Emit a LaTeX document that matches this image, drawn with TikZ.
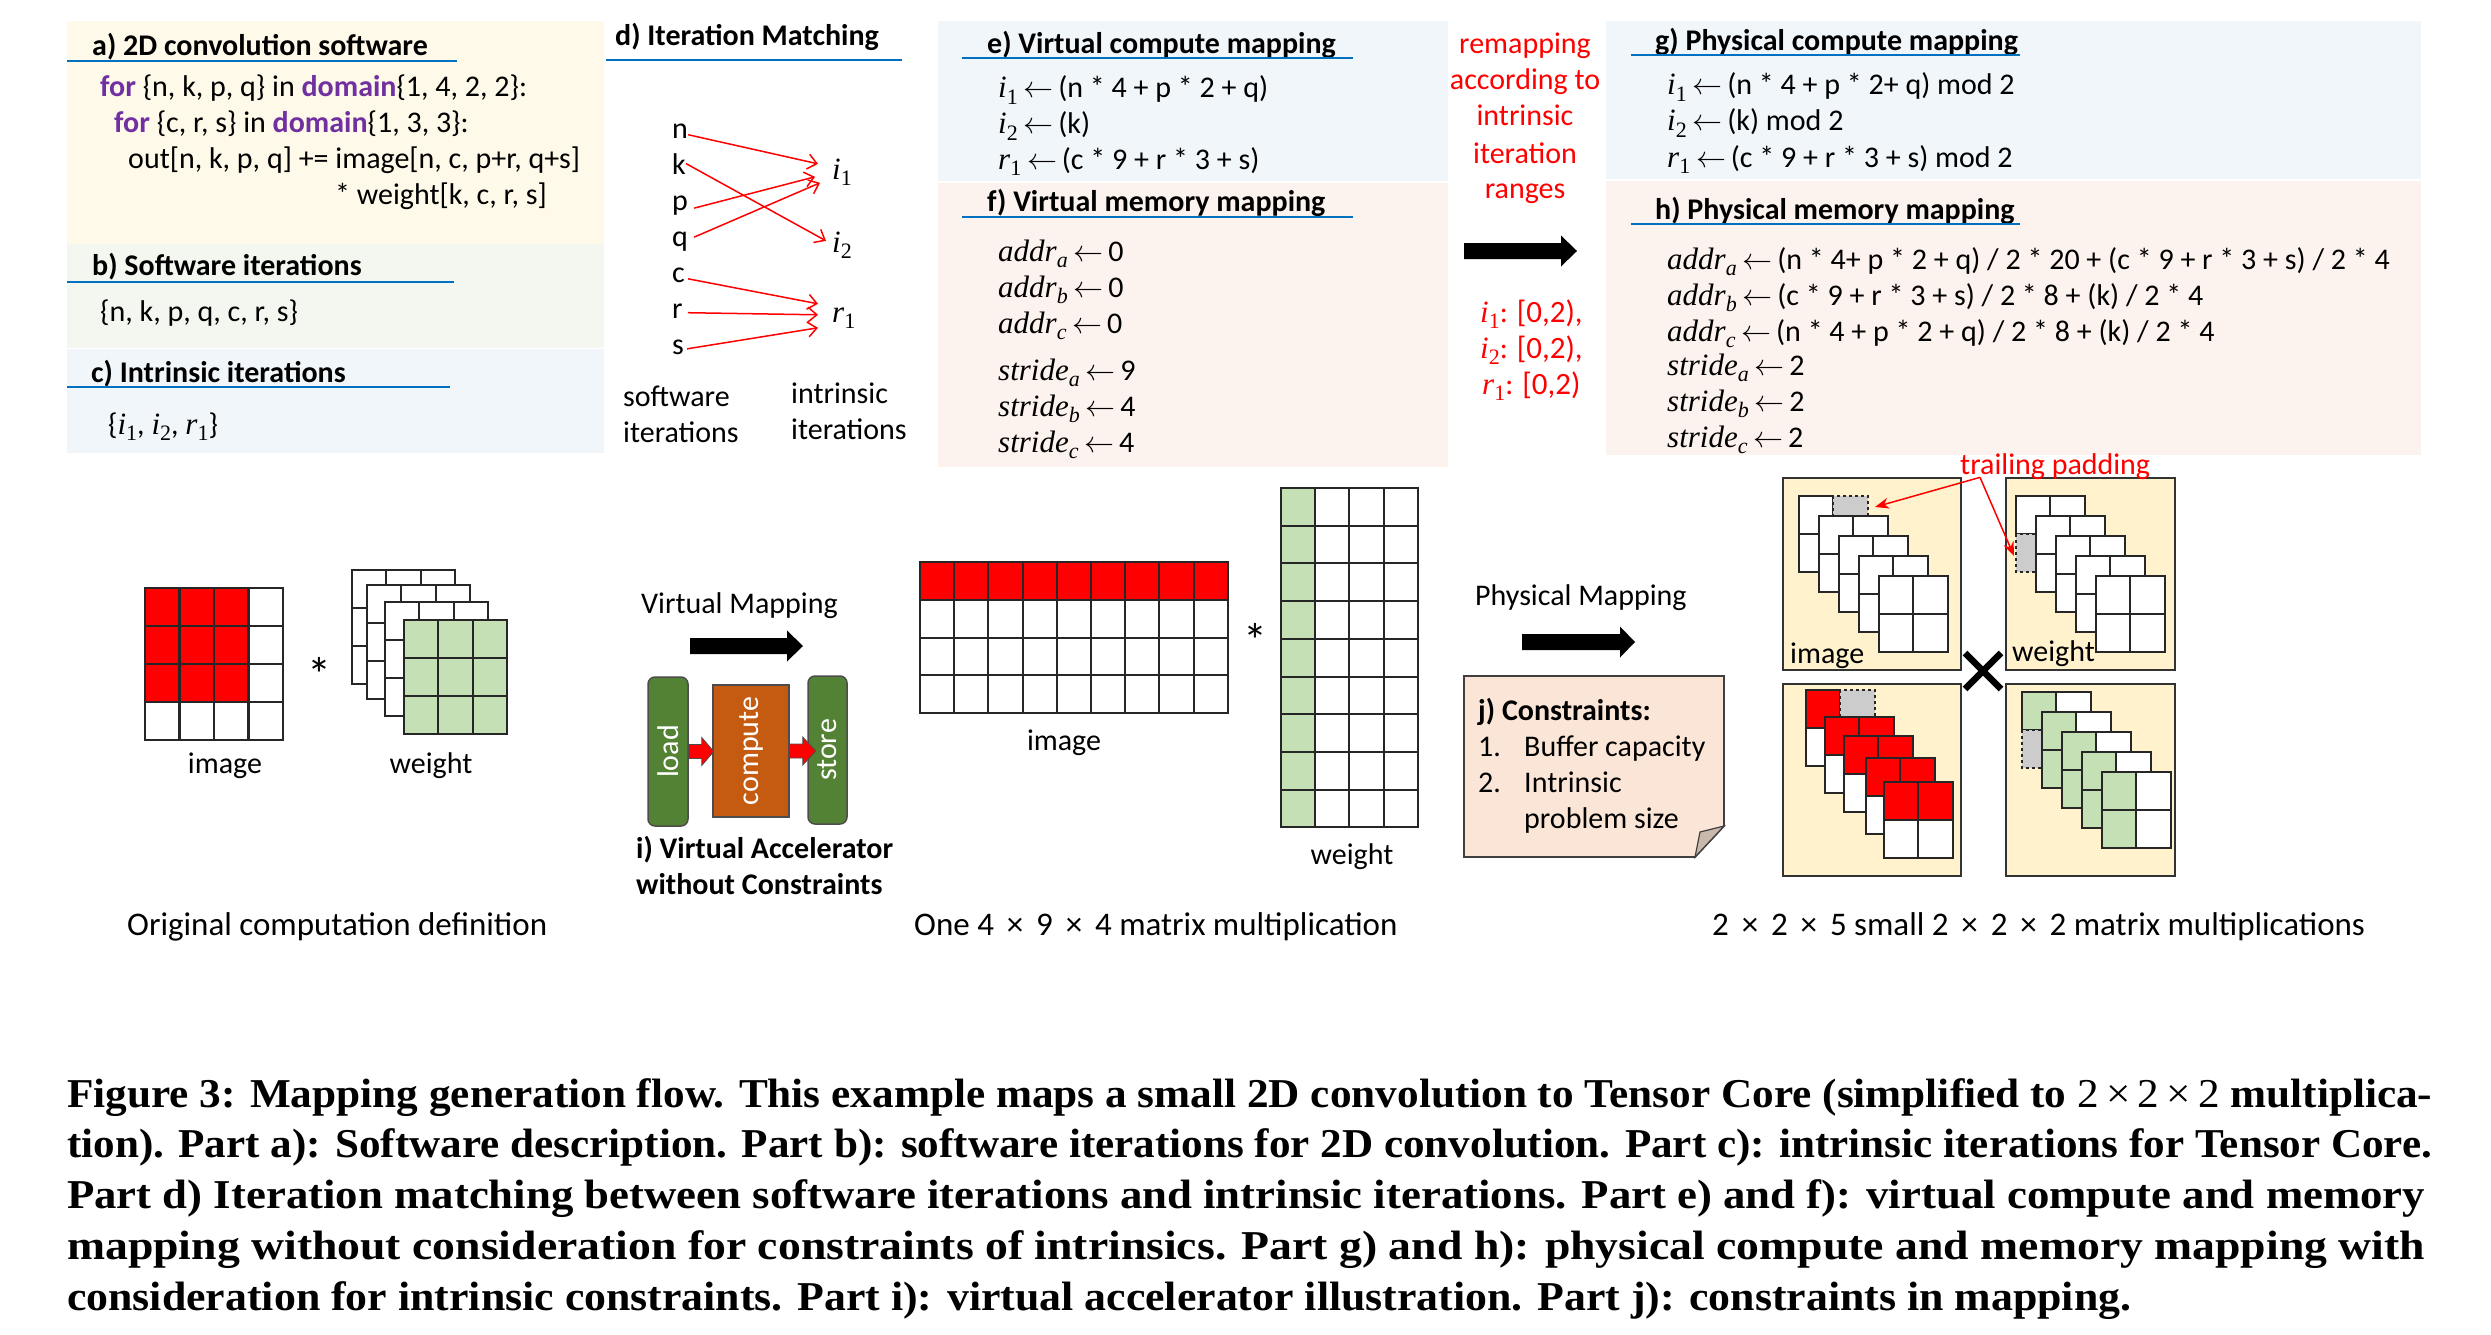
\documentclass[tikz,border=0pt]{standalone}
\usepackage{fix-cm}
\usepackage{graphicx}
\usepackage{fontspec}
\setmainfont{Carlito}
\newfontfamily\cmb{Liberation Serif}
\usetikzlibrary{arrows.meta}
\definecolor{pa}{HTML}{FFF9EA}
\definecolor{pb}{HTML}{F3F7EF}
\definecolor{pc}{HTML}{F1F6FB}
\definecolor{pf}{HTML}{FDF3EE}
\definecolor{ulblue}{HTML}{0070C0}
\definecolor{kw}{HTML}{7030A0}
\definecolor{gr}{HTML}{C5E0B4}
\definecolor{yel}{HTML}{FFF2CC}
\definecolor{grayc}{HTML}{CCCCCC}
\definecolor{dgreen}{HTML}{548235}
\definecolor{orng}{HTML}{C55A11}
\definecolor{note}{HTML}{FBE5D6}
\definecolor{fold}{HTML}{C9B9AC}
\newcommand{\bodyf}{\fontsize{30}{36}\selectfont}
\newcommand{\labf}{\fontsize{33}{40}\selectfont}
\newcommand{\astf}{\fontsize{48}{48}\selectfont}
\newcommand{\mv}[2]{{\cmb\fontsize{31}{36}\selectfont\textit{#1}\raisebox{-0.2em}{\fontsize{22}{22}\selectfont #2}}}
\newcommand{\arr}{\hspace{.2em}$\leftarrow$\hspace{.15em}}
\newcommand{\tm}{\hspace{.39em}×\hspace{.39em}}
\newcommand{\kw}[1]{\textcolor{kw}{\textbf{#1}}}
\newcommand{\capf}{\cmb\bfseries\fontsize{41}{51}\selectfont}
\newcommand{\capl}[2]{\resizebox{#1pt}{\height}{#2}}
\newcommand{\cel}[3]{\draw[cellst,fill=#3] (#1,#2) rectangle ++(34.4,38);}
\newcommand{\celd}[3]{\draw[cellst,dashed,fill=grayc] (#1,#2) rectangle ++(34.4,38);}
\newcommand{\lay}[6]{\cel{#1}{#2}{#3}\cel{#1+34.4}{#2}{#4}\cel{#1}{#2+38}{#5}\cel{#1+34.4}{#2+38}{#6}}
\newcommand{\blockarrow}[6]{\fill[#6] (#1,#5-#4) -- (#3,#5-#4) -- (#3,#5-15.5) -- (#2,#5) -- (#3,#5+15.5) -- (#3,#5+#4) -- (#1,#5+#4) -- cycle;}
\tikzset{
 txt/.style={anchor=base west,inner sep=0pt,font=\bodyf,yshift=-1pt},
 ctr/.style={anchor=base,inner sep=0pt,font=\bodyf,yshift=-1pt},
 ttl/.style={anchor=base west,inner sep=0pt,font=\bodyf\bfseries,yshift=-1.5pt},
 lab/.style={anchor=base west,inner sep=0pt,font=\labf,yshift=-1.5pt},
 astk/.style={anchor=base,inner sep=0pt,font=\astf},
 redtxt/.style={text=red},
 ul/.style={draw=ulblue,line width=1.3pt},
 cellst/.style={draw=black!85,line width=2pt},
 matcharr/.style={draw=red,line width=1.5pt,-{Straight Barb[length=9pt,width=15pt]}},
 padarr/.style={draw=red,line width=1.5pt,-{Stealth[length=14pt,width=11pt]}},
 vert/.style={rotate=90,draw=black!70,line width=1.5pt,text=white,font=\bodyf,inner sep=0pt},
 capt/.style={anchor=base west,inner sep=0pt,font=\capf},
 redblock/.style={fill=red,draw=black!70,line width=0.8pt},
}
\begin{document}
\begin{tikzpicture}[x=1pt,y=-1pt]
\useasboundingbox (0,0) rectangle (2491,1335);
\fill[white] (0,0) rectangle (2491,1335);
% panels
\fill[pa] (67,21) rectangle (604,244);
\fill[pb] (67,244) rectangle (604,348);
\fill[pc] (67,349) rectangle (604,453);
\fill[pc] (938,21) rectangle (1448,181);
\fill[pf] (938,183) rectangle (1448,467);
\fill[pc] (1606,21) rectangle (2421,179);
\fill[pf] (1606,181) rectangle (2421,455);
% a
\node[ttl] (ta) at (92,54) {a) 2D convolution software};
\draw[ul] (67,61) -- (457,61);
\node[txt] (a1) at (100,96) {\kw{for} \{n, k, p, q\} in \kw{domain}\{1, 4, 2, 2\}:};
\node[txt] (a2) at (114,131) {\kw{for} \{c, r, s\} in \kw{domain}\{1, 3, 3\}:};
\node[txt] (a3) at (128,167) {out[n, k, p, q] += image[n, c, p+r, q+s]};
\node[txt] (a4) at (335,203) {* weight[k, c, r, s]};
% b
\node[ttl] (tb) at (92,274) {b) Software iterations};
\draw[ul] (67,282) -- (454,282);
\node[txt] (b1) at (100,320) {\{n, k, p, q, c, r, s\}};
% c
\node[ttl] (tc) at (91,381) {c) Intrinsic iterations};
\draw[ul] (67,387) -- (450,387);
\node[txt] (c1) at (108,433) {\{\mv{i}{1}, \mv{i}{2}, \mv{r}{1}\}};
% d
\node[ttl] (td) at (615,44) {d) Iteration Matching};
\draw[ul] (606,60) -- (902,60);
\node[txt] (n) at (672,138) {n};
\node[txt] (k) at (672,173) {k};
\node[txt] (p) at (672,209) {p};
\node[txt] (q) at (672,245) {q};
\node[txt] (cc) at (672,281) {c};
\node[txt] (r) at (672,317) {r};
\node[txt] (s) at (672,353) {s};
\node[txt] (i1) at (832,178) {\mv{i}{1}};
\node[txt] (i2) at (832,251) {\mv{i}{2}};
\node[txt] (r1) at (832,321) {\mv{r}{1}};
\draw[matcharr] ([shift={(0,3)}]n.east) -- ([shift={(-14,-8)}]i1.west);
\draw[matcharr] ([shift={(0,0)}]k.east) -- ([shift={(-6,-4)}]i2.west);
\draw[matcharr] ([shift={(6,3)}]p.east) -- ([shift={(-17,5)}]i1.west);
\draw[matcharr] ([shift={(6,-4)}]q.east) -- ([shift={(-12,11)}]i1.west);
\draw[matcharr] ([shift={(3,4)}]cc.east) -- ([shift={(-14,-14)}]r1.west);
\draw[matcharr] ([shift={(5,2)}]r.east) -- ([shift={(-14,-3)}]r1.west);
\draw[matcharr] ([shift={(3,2)}]s.east) -- ([shift={(-14,10)}]r1.west);
\node[txt] (sw1) at (623,405) {software};
\node[txt] (sw2) at (623,441) {iterations};
\node[txt] (in1) at (791,402) {intrinsic};
\node[txt] (in2) at (791,438) {iterations};
% e
\node[ttl] (te) at (987,52) {e) Virtual compute mapping};
\draw[ul] (962,58) -- (1353,58);
\node[txt] (e1) at (998,97) {\mv{i}{1}\arr(n * 4 + p * 2 + q)};
\node[txt] (e2) at (998,133) {\mv{i}{2}\arr(k)};
\node[txt] (e3) at (998,168) {\mv{r}{1}\arr(c * 9 + r * 3 + s)};
% f
\node[ttl] (tf) at (987,210) {f) Virtual memory mapping};
\draw[ul] (962,217) -- (1353,217);
\node[txt] (f1) at (998,260) {\mv{addr}{\textit{a}}\arr0};
\node[txt] (f2) at (998,296) {\mv{addr}{\textit{b}}\arr0};
\node[txt] (f3) at (998,332) {\mv{addr}{\textit{c}}\arr0};
\node[txt] (f4) at (998,379) {\mv{stride}{\textit{a}}\arr9};
\node[txt] (f5) at (998,415) {\mv{stride}{\textit{b}}\arr4};
\node[txt] (f6) at (998,451) {\mv{stride}{\textit{c}}\arr4};
% remap
\node[ctr,redtxt] (m1) at (1525,53) {remapping};
\node[ctr,redtxt] (m2) at (1525,89) {according to};
\node[ctr,redtxt] (m3) at (1525,125) {intrinsic};
\node[ctr,redtxt] (m4) at (1525,162) {iteration};
\node[ctr,redtxt] (m5) at (1525,197) {ranges};
\blockarrow{1464}{1577}{1561}{8}{251}{black}
\node[txt,redtxt] (g1) at (1480,321) {\mv{i}{1}: {\fontsize{31}{36}\selectfont [0,2),}};
\node[txt,redtxt] (g2) at (1480,357) {\mv{i}{2}: {\fontsize{31}{36}\selectfont [0,2),}};
\node[txt,redtxt] (g3) at (1482,393) {\mv{r}{1}: {\fontsize{31}{36}\selectfont [0,2)}};
% g
\node[ttl] (tg) at (1655,49) {g) Physical compute mapping};
\draw[ul] (1631,55) -- (2020,55);
\node[txt] (h1) at (1667,94) {\mv{i}{1}\arr(n * 4 + p * 2+ q) mod 2};
\node[txt] (h2) at (1667,130) {\mv{i}{2}\arr(k) mod 2};
\node[txt] (h3) at (1667,166) {\mv{r}{1}\arr(c * 9 + r * 3 + s) mod 2};
% h
\node[ttl] (th) at (1655,218) {h) Physical memory mapping};
\draw[ul] (1631,224) -- (2020,224);
\node[txt] (j1) at (1667,268) {\mv{addr}{\textit{a}}\arr(n * 4+ p * 2 + q) / 2 * 20 + (c * 9 + r * 3 + s) / 2 * 4};
\node[txt] (j2) at (1667,304) {\mv{addr}{\textit{b}}\arr(c * 9 + r * 3 + s) / 2 * 8 + (k) / 2 * 4};
\node[txt] (j3) at (1667,340) {\mv{addr}{\textit{c}}\arr(n * 4 + p * 2 + q) / 2 * 8 + (k) / 2 * 4};
\node[txt] (j4) at (1667,374) {\mv{stride}{\textit{a}}\arr2};
\node[txt] (j5) at (1667,410) {\mv{stride}{\textit{b}}\arr2};
\node[txt] (j6) at (1667,446) {\mv{stride}{\textit{c}}\arr2};
% original matrices
\foreach \i in {0,...,3}\foreach \j in {0,...,3}{
  \pgfmathparse{(\i<3 && \j<3) ? "red" : "white"}
  \edef\cc{\pgfmathresult}
  \cel{145+34.5*\i}{588+38*\j}{\cc}
}
\node[ctr] (l1) at (225,772) {image};
\node[ctr] (l2) at (431,772) {weight};
\node[astk] (st1) at (319,691) {*};
\foreach \lx/\ly/\cc in {352/570/white,367/585/white,385/602/white,404/620/gr}{
  \foreach \i in {0,1,2}\foreach \j in {0,1,2}{
    \cel{\lx+34.4*\i}{\ly+38*\j}{\cc}
  }
}
\node[lab] (o1) at (127,934) {Original computation definition};
% virtual accel
\node[txt] (vm) at (641,612) {Virtual Mapping};
\blockarrow{690}{803}{787}{8}{646}{black}
\node[vert,fill=dgreen,rounded corners=7pt,minimum width=149pt,minimum height=40pt] (load) at (668,751.5) {load};
\node[vert,fill=orng,minimum width=132pt,minimum height=76pt] (compute) at (751,751) {\raisebox{-7pt}{compute}};
\node[vert,fill=dgreen,rounded corners=7pt,minimum width=148pt,minimum height=39pt] (store) at (827.5,750) {\raisebox{-6pt}{store}};
\begin{scope}[shift={(load.south)}]
\draw[redblock] (0,-7) -- (13,-7) -- (13,-14) -- (25,0) -- (13,14) -- (13,7) -- (0,7) -- cycle;
\end{scope}
\begin{scope}[shift={(compute.south)}]
\draw[redblock] (-1,-7) -- (13,-7) -- (13,-14) -- (26,0) -- (13,14) -- (13,7) -- (-1,7) -- cycle;
\end{scope}
\node[ttl] (v1) at (636,857) {i) Virtual Accelerator};
\node[ttl] (v2) at (636,893) {without Constraints};
% one matrix mult
\foreach \i in {0,...,8}\foreach \j in {0,...,3}{
  \pgfmathparse{\j==0 ? "red" : "white"}
  \edef\cc{\pgfmathresult}
  \draw[cellst,fill=\cc] (920+34.2*\i,562+37.8*\j) rectangle ++(34.2,37.8);
}
\node[ctr] (l3) at (1064,749) {image};
\node[astk] (st2) at (1255,657) {*};
\foreach \i in {0,...,3}\foreach \j in {0,...,8}{
  \pgfmathparse{\i==0 ? "gr" : "white"}
  \edef\cc{\pgfmathresult}
  \draw[cellst,fill=\cc] (1281+34.2*\i,488+37.7*\j) rectangle ++(34.2,37.7);
}
\node[ctr] (l4) at (1352,863) {weight};
\node[lab] (o2) at (914,934) {One 4\tm9\tm4 matrix multiplication};
% physical
\node[txt] (pm) at (1475,604) {Physical Mapping};
\blockarrow{1522}{1635}{1620}{8}{642}{black}
\draw[fill=note,draw=black!75,line width=1.8pt] (1464,676) -- (1724,676) -- (1724,826) -- (1695,857) -- (1464,857) -- cycle;
\draw[fill=fold,draw=black!75,line width=1.2pt] (1724,826) -- (1700,832) -- (1695,857) -- cycle;
\node[ttl] (cn) at (1478,719) {j) Constraints:};
\node[txt] (cn1) at (1478,755) {1.};
\node[txt] (cn1t) at (1524,755) {Buffer capacity};
\node[txt] (cn2) at (1478,791) {2.};
\node[txt] (cn2t) at (1524,791) {Intrinsic};
\node[txt] (cn3t) at (1524,827) {problem size};
% yellow boxes
\foreach \bx/\by/\bw in {1783/478/178,2006/478/169,1783/684/178,2006/684/169}{
  \draw[fill=yel,draw=black!80,line width=2pt] (\bx,\by) rectangle ++(\bw,192);
}
% TL stack
\cel{1799}{496}{white}\cel{1799}{534}{white}\celd{1833.4}{496}{}
\foreach \k in {1,2,3,4}{ \lay{1799+20*\k}{496+20*\k}{white}{white}{white}{white}{} }
% TR stack
\cel{2016}{496}{white}\cel{2050.4}{496}{white}\celd{2016}{534}{}
\foreach \k in {1,2,3,4}{ \lay{2016+20*\k}{496+20*\k}{white}{white}{white}{white}{} }
% BL stack
\cel{1806}{690}{red}\cel{1806}{728}{white}\celd{1840.4}{690}{}
\foreach \lx/\ly in {1825/717,1844/736,1866/758,1884/782}{ \lay{\lx}{\ly}{red}{red}{white}{white}{} }
% BR stack
\cel{2022}{692}{gr}\cel{2056.4}{692}{white}\celd{2022}{730}{}
\foreach \k in {1,2,3,4}{ \lay{2022+20*\k}{692+20*\k}{gr}{white}{gr}{white}{} }
\node[txt] (l5) at (1790,662) {image};
\node[txt] (l6) at (2012,660) {weight};
\draw[black,line width=6.5pt] (1965,653) -- (2001,689);
\draw[black,line width=6.5pt] (2001,653) -- (1965,689);
\node[txt,redtxt] (tp) at (1960,473) {trailing padding};
\coordinate (padA) at (1875,507);
\coordinate (padB) at (2014,556);
\draw[padarr] ([shift={(20,-2)}]tp.south west) -- (padA);
\draw[padarr] ([shift={(20,-2)}]tp.south west) -- (padB);
\node[lab] (o3) at (1712,934) {2\tm2\tm5 small 2\tm2\tm2 matrix multiplications};
% caption
\node[capt] (cap1) at (67,1107) {\capl{2365}{Figure 3: Mapping generation flow. This example maps a small 2D convolution to Tensor Core (simplified to {\mdseries 2\,×\,2\,×\,2} multiplica-}};
\node[capt] (cap2) at (67,1157) {\capl{2365}{tion). Part a): Software description. Part b): software iterations for 2D convolution. Part c): intrinsic iterations for Tensor Core.}};
\node[capt] (cap3) at (67,1208) {\capl{2358}{Part d) Iteration matching between software iterations and intrinsic iterations. Part e) and f): virtual compute and memory}};
\node[capt] (cap4) at (67,1259) {\capl{2358}{mapping without consideration for constraints of intrinsics. Part g) and h): physical compute and memory mapping with}};
\node[capt] (cap5) at (67,1310) {\capl{2064}{consideration for intrinsic constraints. Part i): virtual accelerator illustration. Part j): constraints in mapping.}};
\end{tikzpicture}
\end{document}
